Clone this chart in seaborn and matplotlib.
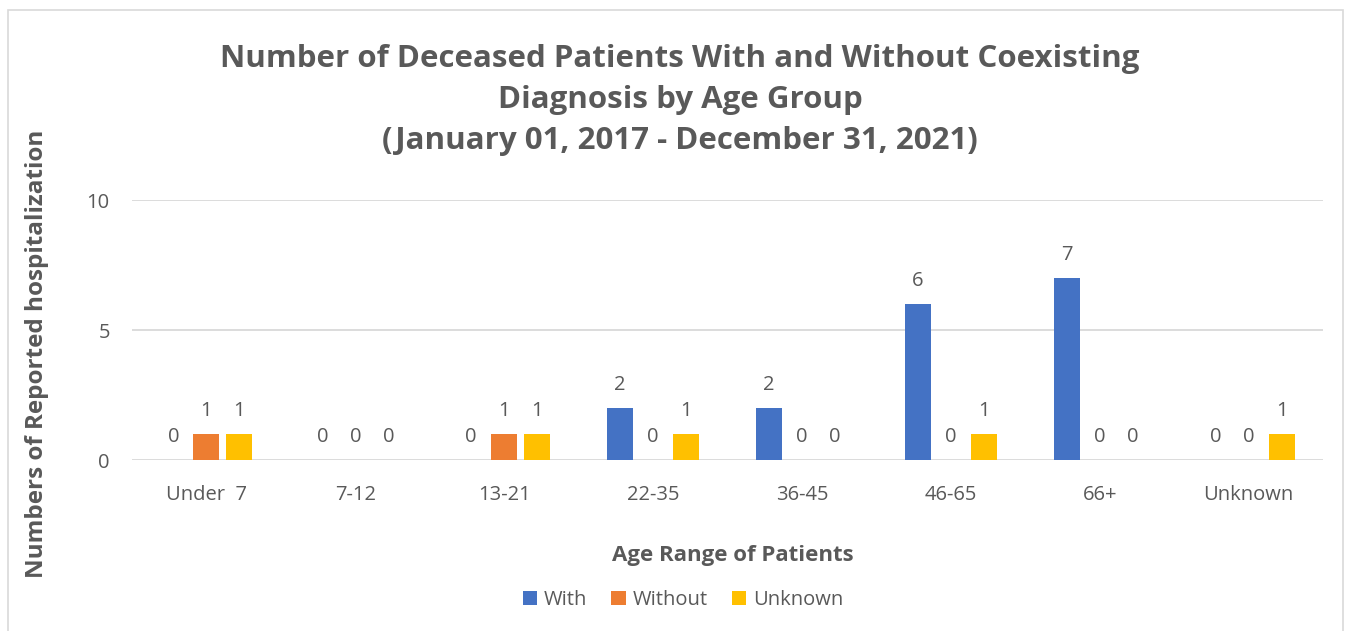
import matplotlib
matplotlib.use("Agg")
import matplotlib.pyplot as plt
import seaborn as sns
import pandas as pd
from matplotlib.patches import Rectangle, Patch

age_groups = ["Under  7", "7-12", "13-21", "22-35", "36-45", "46-65", "66+", "Unknown"]
with_diag = [0, 0, 0, 2, 2, 6, 7, 0]
without_diag = [1, 0, 1, 0, 0, 0, 0, 0]
unknown_diag = [1, 0, 1, 1, 0, 1, 0, 1]
series_names = ["With", "Without", "Unknown"]
colors = ["#4472C4", "#ED7D31", "#FFC000"]

rows = []
for name, vals in zip(series_names, [with_diag, without_diag, unknown_diag]):
    for g, v in zip(age_groups, vals):
        rows.append({"Age": g, "Series": name, "Count": v})
df = pd.DataFrame(rows)

sns.set_theme(style="white")
plt.rcParams["font.family"] = ["Open Sans", "DejaVu Sans"]
txt = "#595959"

fig = plt.figure(figsize=(13.53, 6.31), dpi=100)
ax = fig.add_axes([132 / 1353, 1 - 460 / 631, (1323 - 132) / 1353, 260 / 631])

sns.barplot(data=df, x="Age", y="Count", hue="Series", hue_order=series_names,
            palette=colors, width=0.665, gap=0.21, ax=ax, legend=False,
            saturation=1, errorbar=None, linewidth=0)

for cont in ax.containers:
    ax.bar_label(cont, fmt="%g", padding=9, fontsize=14.5, color=txt)

ax.set_ylim(0, 10)
ax.set_yticks([0, 5, 10])
ax.set_xlim(-0.5, len(age_groups) - 0.5)
ax.grid(axis="y", color="#D9D9D9", linewidth=1.3)
ax.set_axisbelow(True)
for s in ax.spines.values():
    s.set_visible(False)
ax.tick_params(axis="both", length=0, labelsize=14.5, labelcolor=txt)
ax.tick_params(axis="x", pad=18)
ax.tick_params(axis="y", pad=16)
ax.set_xlabel("")
ax.set_ylabel("")

fig.text(733 / 1353, 1 - 555 / 631, "Age Range of Patients", ha="center", va="center",
         fontsize=16, fontweight="bold", color=txt)
fig.text(37 / 1353, 1 - 354 / 631, "Numbers of Reported hospitalization", ha="center",
         va="center", rotation=90, fontsize=17.5, fontweight="bold", color=txt)
fig.text(680 / 1353, 1 - 100 / 631,
         "Number of Deceased Patients With and Without Coexisting\nDiagnosis by Age Group\n(January 01, 2017 - December 31, 2021)",
         ha="center", va="center", fontsize=22.5, fontweight="bold", color=txt,
         linespacing=1.5)

handles = [Patch(facecolor=c, edgecolor="none") for c in colors]
fig.legend(handles, series_names, loc="center", bbox_to_anchor=(683 / 1353, 1 - 600 / 631),
           ncol=3, frameon=False, fontsize=14.5, labelcolor=txt, handlelength=0.7,
           handleheight=0.7, handletextpad=0.35, columnspacing=1.2)

fig.patches.append(Rectangle((8 / 1353, -0.05), (1343 - 8) / 1353, 1 - 10 / 631 + 0.05,
                             transform=fig.transFigure, fill=False,
                             edgecolor="#D9D9D9", linewidth=1.2))

fig.savefig("out.png", dpi=100, facecolor="white")
